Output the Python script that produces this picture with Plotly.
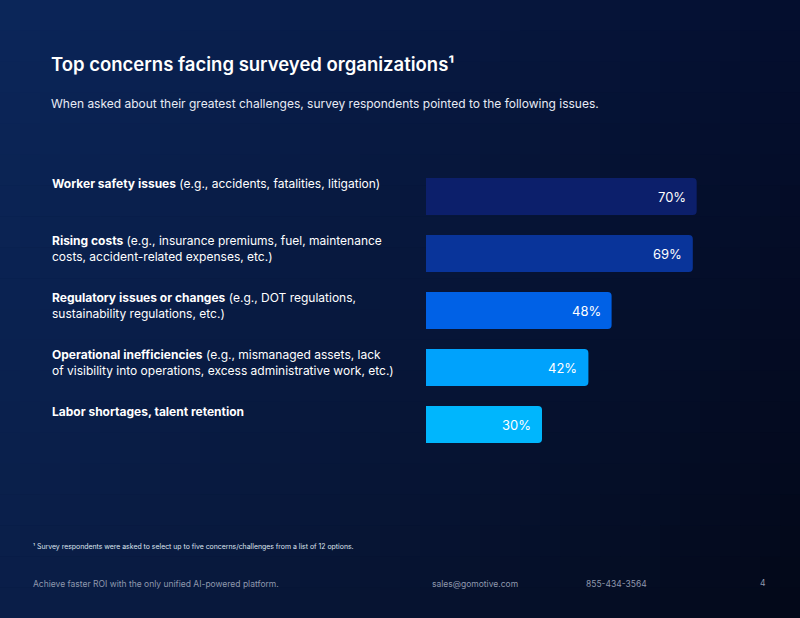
import plotly.graph_objects as go

# ---- data ----
categories = [
    "Worker safety issues",
    "Rising costs",
    "Regulatory issues or changes",
    "Operational inefficiencies",
    "Labor shortages, talent retention",
]
label_texts = [
    "<b>Worker safety issues</b> (e.g., accidents, fatalities, litigation)",
    "<b>Rising costs</b> (e.g., insurance premiums, fuel, maintenance<br>costs, accident-related expenses, etc.)",
    "<b>Regulatory issues or changes</b> (e.g., DOT regulations,<br>sustainability regulations, etc.)",
    "<b>Operational inefficiencies</b> (e.g., mismanaged assets, lack<br>of visibility into operations, excess administrative work, etc.)",
    "<b>Labor shortages, talent retention</b>",
]
values = [70, 69, 48, 42, 30]
bar_colors = ["#0c1f6b", "#09349a", "#0061e6", "#00a2fc", "#00b6fd"]

title = "Top concerns facing surveyed organizations¹"
subtitle = "When asked about their greatest challenges, survey respondents pointed to the following issues."
footnote = "¹ Survey respondents were asked to select up to five concerns/challenges from a list of 12 options."
footer_left = "Achieve faster ROI with the only unified AI-powered platform."
footer_email = "sales@gomotive.com"
footer_phone = "855-434-3564"
page_num = "4"

W, H = 800, 618
L, R, T, B = 426, 26, 168, 165
FONT = "Inter, Noto Sans, sans-serif"

fig = go.Figure()
fig.add_trace(go.Bar(
    x=values, y=categories, orientation="h",
    marker=dict(color=bar_colors, cornerradius=4, line=dict(width=0)),
    hoverinfo="skip",
))

# value labels
for c, v in zip(categories, values):
    fig.add_annotation(x=v, y=c, xref="x", yref="y", text=f"{v}%",
                       showarrow=False, xanchor="right", yanchor="middle",
                       xshift=-9, font=dict(family=FONT, size=13, color="white"))

# category labels
for c, t in zip(categories, label_texts):
    fig.add_annotation(x=(50 - L) / (W - L - R), y=c, xref="paper", yref="y", text=t,
                       showarrow=False, xanchor="left", yanchor="top", align="left",
                       yshift=23, font=dict(family=FONT, size=12, color="white"))

def px2paper_x(px):
    return (px - L) / (W - L - R)

def px2paper_y(py):
    return (H - B - py) / (H - T - B)

# background gradient
shapes = []
NX, NY = 40, 20
tl, tr, bl, br = (11, 38, 90), (4, 14, 46), (10, 30, 72), (3, 8, 24)
for i in range(NX):
    for j in range(NY):
        u = (i + 0.5) / NX
        v = (j + 0.5) / NY
        col = [int(round((1 - u) * (1 - v) * tl[k] + u * (1 - v) * tr[k] + (1 - u) * v * bl[k] + u * v * br[k])) for k in range(3)]
        x0 = i * W / NX
        x1 = (i + 1) * W / NX + 0.5
        y0 = j * H / NY
        y1 = (j + 1) * H / NY + 0.5
        shapes.append(dict(type="rect", xref="paper", yref="paper",
                           x0=px2paper_x(x0), x1=px2paper_x(x1),
                           y0=px2paper_y(y1), y1=px2paper_y(y0),
                           fillcolor=f"rgb({col[0]},{col[1]},{col[2]})",
                           line=dict(width=0), layer="below"))

def text_at(px, py, txt, size, color, anchor="left", weight="normal"):
    fig.add_annotation(x=px2paper_x(px), y=px2paper_y(py), xref="paper", yref="paper",
                       text=txt, showarrow=False, xanchor=anchor, yanchor="middle",
                       font=dict(family=FONT, size=size, color=color, weight=weight))

text_at(49, 64, title, 18.5, "white", weight=600)
text_at(49, 104, subtitle, 12, "#e8ecf5")
text_at(31, 546, footnote, 6.9, "#dfe4ef")
text_at(31, 584, footer_left, 8.5, "#8f98ad")
text_at(430, 584, footer_email, 8.5, "#8f98ad")
text_at(584, 584, footer_phone, 8.5, "#8f98ad")
text_at(768, 583, page_num, 8.5, "#8f98ad", anchor="right")

fig.update_layout(
    width=W, height=H,
    margin=dict(l=L, r=R, t=T, b=B),
    paper_bgcolor="#071536", plot_bgcolor="rgba(0,0,0,0)",
    showlegend=False, bargap=0.35,
    shapes=shapes,
    xaxis=dict(range=[0, 90], visible=False, fixedrange=True),
    yaxis=dict(autorange="reversed", visible=False, fixedrange=True),
    font=dict(family=FONT),
)

fig.write_html("out.html", config={"displayModeBar": False})
